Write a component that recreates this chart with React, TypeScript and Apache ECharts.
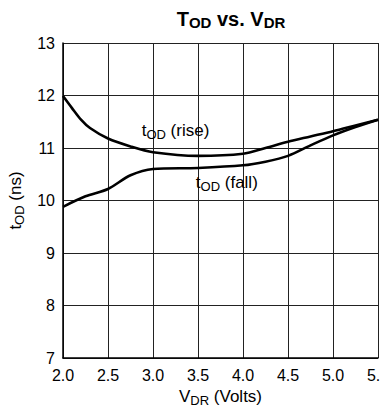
import React, { useEffect, useRef } from "react";
import * as echarts from "echarts";

const riseX = [2.0, 2.1, 2.2, 2.3, 2.5, 2.75, 3.0, 3.5, 4.0, 4.25, 4.5, 4.75, 5.0, 5.25, 5.5];
const riseY = [11.99, 11.76, 11.54, 11.38, 11.18, 11.03, 10.92, 10.85, 10.89, 11.0, 11.12, 11.22, 11.32, 11.43, 11.54];
const fallX = [2.0, 2.25, 2.5, 2.75, 3.0, 3.5, 4.0, 4.25, 4.5, 4.75, 5.0, 5.25, 5.5];
const fallY = [9.88, 10.08, 10.22, 10.48, 10.6, 10.62, 10.67, 10.74, 10.85, 11.05, 11.24, 11.4, 11.54];
const xTicks = ["2.0", "2.5", "3.0", "3.5", "4.0", "4.5", "5.0", "5.5"];
const riseLabelAt = [3.25, 11.34];
const fallLabelAt = [3.82, 10.35];

const FONT = "Liberation Sans, Arial, sans-serif";

export default function App() {
  const ref = useRef<HTMLDivElement>(null);
  useEffect(() => {
    if (!ref.current) return;
    const chart = echarts.init(ref.current, null, { renderer: "svg" });
    const main = (size: number, bold = false) => ({
      fontSize: size,
      fontFamily: FONT,
      fontWeight: bold ? "bold" : "normal",
      color: "#000",
      lineHeight: 22,
      verticalAlign: "middle",
    });
    const sub = (size: number, bold = false) => ({
      fontSize: size,
      fontFamily: FONT,
      fontWeight: bold ? "bold" : "normal",
      color: "#000",
      lineHeight: 11,
      verticalAlign: "bottom",
    });
    const richN = { m: main(17), s: sub(13) };
    const annot = (txt: string, coord: number[]) => ({
      silent: true,
      symbol: "rect",
      symbolSize: 1,
      itemStyle: { color: "rgba(0,0,0,0)" },
      label: {
        show: true,
        position: "inside",
        formatter: txt,
        rich: richN,
      },
      data: [{ coord, value: 0 }],
    });
    chart.setOption({
      animation: false,
      title: {
        text: "{m|T}{s|OD}{m| vs. V}{s|DR}",
        left: 226,
        top: 3,
        textAlign: "center",
        textStyle: {
          rich: { m: main(20, true), s: sub(15, true) },
        },
      },
      grid: {
        left: 63,
        right: 10,
        top: 43,
        bottom: 56,
        containLabel: false,
        outerBoundsMode: "none",
      },
      xAxis: {
        type: "value",
        min: 2.0,
        max: 5.5,
        interval: 0.5,
        name: "{m|V}{s|DR}{m| (Volts)}",
        nameLocation: "middle",
        nameGap: 22,
        nameTextStyle: { rich: richN },
        axisLine: { show: true, lineStyle: { color: "#000", width: 1.5 } },
        axisTick: { show: false },
        axisLabel: {
          fontSize: 16,
          fontFamily: FONT,
          color: "#000",
          margin: 9,
          formatter: (v: number) => xTicks[Math.round((v - 2) / 0.5)] ?? "",
        },
        splitLine: { show: true, lineStyle: { color: "#222", width: 1 } },
      },
      yAxis: {
        type: "value",
        min: 7,
        max: 13,
        interval: 1,
        name: "{m|t}{s|OD}{m| (ns)}",
        nameLocation: "middle",
        nameGap: 34,
        nameRotate: 90,
        nameTextStyle: { rich: richN },
        axisLine: { show: true, lineStyle: { color: "#000", width: 1.5 } },
        axisTick: { show: false },
        axisLabel: {
          fontSize: 16,
          fontFamily: FONT,
          color: "#000",
          margin: 8,
        },
        splitLine: { show: true, lineStyle: { color: "#222", width: 1 } },
      },
      series: [
        {
          type: "line",
          data: riseX.map((x, i) => [x, riseY[i]]),
          smooth: 0.3,
          showSymbol: false,
          lineStyle: { color: "#000", width: 2.6 },
          markPoint: annot("{m|t}{s|OD}{m| (rise)}", riseLabelAt),
        },
        {
          type: "line",
          data: fallX.map((x, i) => [x, fallY[i]]),
          smooth: 0.3,
          showSymbol: false,
          lineStyle: { color: "#000", width: 2.6 },
          markPoint: annot("{m|t}{s|OD}{m| (fall)}", fallLabelAt),
        },
      ],
    });
    return () => chart.dispose();
  }, []);
  return <div ref={ref} style={{ width: 388, height: 414, margin: -8 }} />;
}
